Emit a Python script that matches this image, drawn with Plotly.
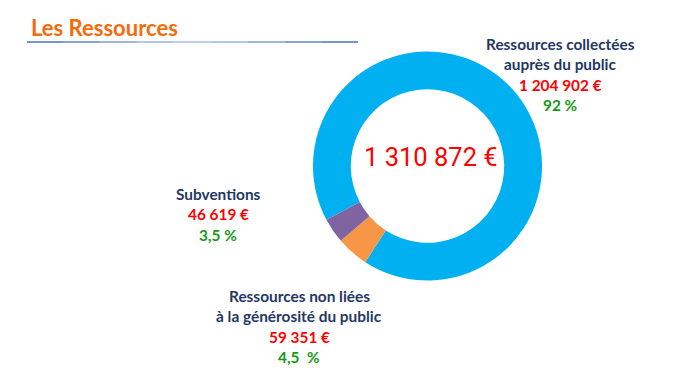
import plotly.graph_objects as go

labels = ["Ressources collectées auprès du public", "Ressources non liées à la générosité du public", "Subventions"]
values = [1204902, 59351, 46619]
name_lines = [["Ressources collectées", "auprès du public"], ["Ressources non liées", "à la générosité du public"], ["Subventions"]]
amount_labels = ["1 204 902 €", "59 351 €", "46 619 €"]
pct_labels = ["92 %", "4,5  %", "3,5 %"]
total_label = "1 310 872 €"
title_text = "Les Ressources"
colors = ["#00B0F0", "#F79646", "#8064A2"]

W, H = 699, 380
cx, cy, r = 427.5, 166, 114.5

fig = go.Figure(go.Pie(
    labels=labels, values=values, hole=0.67, sort=False, direction="clockwise",
    rotation=242, marker=dict(colors=colors, line=dict(width=0)),
    textinfo="none", hoverinfo="label+value+percent", showlegend=False,
    domain=dict(x=[(cx - r) / W, (cx + r) / W], y=[1 - (cy + r) / H, 1 - (cy - r) / H]),
))

NAVY = "#1F3864"
RED = "#FF0000"
GREEN = "#149A14"
FONT = "Lato"
FS = 15.4
LH = 20.3

# label block anchors: (center x, y of first line)
block_pos = [(560, 44), (299, 296), (218, 194)]

anns = [
    dict(x=29 / W, y=1 - 27 / H, text="<b>" + title_text + "</b>", xanchor="left", yanchor="middle",
         font=dict(family=FONT, size=22, color="#F36C0A")),
    dict(x=431 / W, y=1 - 157 / H, text=total_label, xanchor="center", yanchor="middle",
         font=dict(family="Roboto", size=25.5, color=RED)),
]
for i in range(len(values)):
    bx, by = block_pos[i]
    lines = [(l, NAVY) for l in name_lines[i]] + [(amount_labels[i], RED), (pct_labels[i], GREEN)]
    for j, (t, c) in enumerate(lines):
        anns.append(dict(x=bx / W, y=1 - (by + j * LH) / H, text="<b>" + t + "</b>",
                         xanchor="center", yanchor="middle",
                         font=dict(family=FONT, size=FS, color=c)))
for a in anns:
    a.update(xref="paper", yref="paper", showarrow=False)

# underline with a light gradient towards the middle
seg_cols = ["#4472C4", "#5F86CC", "#7C9BD6", "#9DB5E0", "#A9BEE4", "#9DB5E0", "#7C9BD6", "#5F86CC", "#4472C4"]
x0, x1, yl = 27, 358, 42
n = len(seg_cols)
shapes = []
for k, c in enumerate(seg_cols):
    shapes.append(dict(type="line", xref="paper", yref="paper",
                       x0=(x0 + (x1 - x0) * k / n) / W, x1=(x0 + (x1 - x0) * (k + 1) / n) / W,
                       y0=1 - yl / H, y1=1 - yl / H, line=dict(color=c, width=1.3)))

fig.update_layout(
    width=W, height=H, margin=dict(l=0, r=0, t=0, b=0),
    paper_bgcolor="white", plot_bgcolor="white",
    annotations=anns, shapes=shapes,
)
fig.write_html("out.html", config={"displayModeBar": False},
               post_script="document.body.style.margin='0';")
